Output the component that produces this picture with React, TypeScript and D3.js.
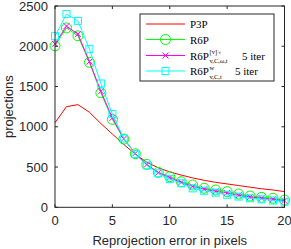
import React from "react";
import * as d3 from "d3";

const xs = d3.range(0, 21);
const p3p = [1050, 1250, 1275, 1180, 1040, 910, 780, 660, 560, 490, 440, 400, 365, 335, 310, 290, 270, 250, 230, 215, 195];
const r6p = [2005, 2228, 2130, 1800, 1422, 1092, 847, 665, 533, 434, 380, 318, 277, 236, 215, 194, 165, 140, 124, 112, 90];
const r6pV = [2030, 2250, 2150, 1810, 1440, 1110, 852, 670, 530, 430, 368, 310, 258, 225, 200, 178, 150, 128, 114, 100, 80];
const r6pW = [2125, 2400, 2315, 1964, 1538, 1158, 855, 662, 520, 422, 350, 298, 235, 205, 182, 155, 133, 112, 99, 84, 70];
const xTicks = [0, 5, 10, 15, 20];
const yTicks = [0, 500, 1000, 1500, 2000, 2500];

export default function App() {
  const W = 291, H = 249;
  const L = 55, R = 284.5, T = 6, B = 207.3;
  const x = d3.scaleLinear().domain([0, 20]).range([L, R]);
  const y = d3.scaleLinear().domain([0, 2500]).range([B, T]);
  const line = (vals: number[]) =>
    d3.line<number>().x((_, i) => x(xs[i])).y((v) => y(v))(vals) || "";
  const tl = 3;
  const sans = "'Liberation Sans', Arial, sans-serif";
  const serif = "'Liberation Serif', 'Times New Roman', serif";
  const green = "#00ff00", mag = "#ff00ff", cyan = "#00ffff", red = "#ff0000";
  const legX = 140, legY = 14, legW = 134, legH = 67;
  const rows = [24, 39.5, 55.5, 71];
  const lx1 = 146, lx2 = 185, lmx = 165.5, tx = 190;
  const fs = 11;
  const sx = 209.5;
  const cross = (cx: number, cy: number, k: string) => (
    <path key={k} d={`M${cx - 3},${cy - 3}L${cx + 3},${cy + 3}M${cx - 3},${cy + 3}L${cx + 3},${cy - 3}`} stroke={mag} strokeWidth={1} fill="none" />
  );
  return (
    <svg width={W} height={H} style={{ position: "absolute", left: 0, top: 0, background: "#fff" }}>
      <rect x={0} y={0} width={W} height={H} fill="#fff" />
      {/* data */}
      <path d={line(p3p)} fill="none" stroke={red} strokeWidth={1} />
      <path d={line(r6p)} fill="none" stroke={green} strokeWidth={1} />
      {r6p.map((v, i) => (
        <circle key={"g" + i} cx={x(xs[i])} cy={y(v)} r={5} fill="none" stroke={green} strokeWidth={1} />
      ))}
      <path d={line(r6pV)} fill="none" stroke={mag} strokeWidth={1} />
      {r6pV.map((v, i) => cross(x(xs[i]), y(v), "m" + i))}
      <path d={line(r6pW)} fill="none" stroke={cyan} strokeWidth={1} />
      {r6pW.map((v, i) => (
        <rect key={"c" + i} x={x(xs[i]) - 3.5} y={y(v) - 3.5} width={7} height={7} fill="none" stroke={cyan} strokeWidth={1} />
      ))}
      {/* axes box */}
      <rect x={L} y={T} width={R - L} height={B - T} fill="none" stroke="#262626" strokeWidth={1} />
      {xTicks.map((t) => (
        <g key={"xt" + t}>
          <line x1={x(t)} x2={x(t)} y1={B} y2={B - tl} stroke="#262626" />
          <line x1={x(t)} x2={x(t)} y1={T} y2={T + tl} stroke="#262626" />
          <text x={x(t)} y={B + 18} textAnchor="middle" fontFamily={sans} fontSize={13} fill="#262626">{t}</text>
        </g>
      ))}
      {yTicks.map((t) => (
        <g key={"yt" + t}>
          <line x1={L} x2={L + tl} y1={y(t)} y2={y(t)} stroke="#262626" />
          <line x1={R} x2={R - tl} y1={y(t)} y2={y(t)} stroke="#262626" />
          <text x={L - 7} y={y(t) + 4.5} textAnchor="end" fontFamily={sans} fontSize={13} fill="#262626">{t}</text>
        </g>
      ))}
      <text x={(L + R) / 2} y={245} textAnchor="middle" fontFamily={sans} fontSize={13} fill="#262626">Reprojection error in pixels</text>
      <text transform={`translate(13,${(T + B) / 2}) rotate(-90)`} textAnchor="middle" fontFamily={sans} fontSize={13} fill="#262626">projections</text>
      {/* legend */}
      <rect x={legX} y={legY} width={legW} height={legH} fill="#fff" stroke="#262626" strokeWidth={1} />
      <line x1={lx1} x2={lx2} y1={rows[0]} y2={rows[0]} stroke={red} />
      <text x={tx} y={rows[0] + 4} fontFamily={serif} fontSize={fs} fill="#000">P3P</text>
      <line x1={lx1} x2={lx2} y1={rows[1]} y2={rows[1]} stroke={green} />
      <circle cx={lmx} cy={rows[1]} r={5} fill="none" stroke={green} />
      <text x={tx} y={rows[1] + 4} fontFamily={serif} fontSize={fs} fill="#000">R6P</text>
      <line x1={lx1} x2={lx2} y1={rows[2]} y2={rows[2]} stroke={mag} />
      {cross(lmx, rows[2], "lm")}
      <text x={tx} y={rows[2] + 4} fontFamily={serif} fontSize={fs} fill="#000">R6P</text>
      <text x={sx} y={rows[2] - 2} fontFamily={serif} fontSize={6.5} fill="#000">[v]</text>
      <text x={sx + 8.5} y={rows[2] - 0.5} fontFamily={serif} fontSize={5.5} fill="#000">×</text>
      <text x={sx} y={rows[2] + 7} fontFamily={serif} fontSize={6.5} fill="#000">v,C,ω,t</text>
      <text x={242} y={rows[2] + 4} fontFamily={serif} fontSize={fs} fill="#000">5 iter</text>
      <line x1={lx1} x2={lx2} y1={rows[3]} y2={rows[3]} stroke={cyan} />
      <rect x={lmx - 3.5} y={rows[3] - 3.5} width={7} height={7} fill="none" stroke={cyan} />
      <text x={tx} y={rows[3] + 4} fontFamily={serif} fontSize={fs} fill="#000">R6P</text>
      <text x={sx} y={rows[3] - 1} fontFamily={serif} fontSize={6.5} fill="#000">w</text>
      <text x={sx} y={rows[3] + 7.5} fontFamily={serif} fontSize={6.5} fill="#000">v,C,t</text>
      <text x={235} y={rows[3] + 4} fontFamily={serif} fontSize={fs} fill="#000">5 iter</text>
    </svg>
  );
}
